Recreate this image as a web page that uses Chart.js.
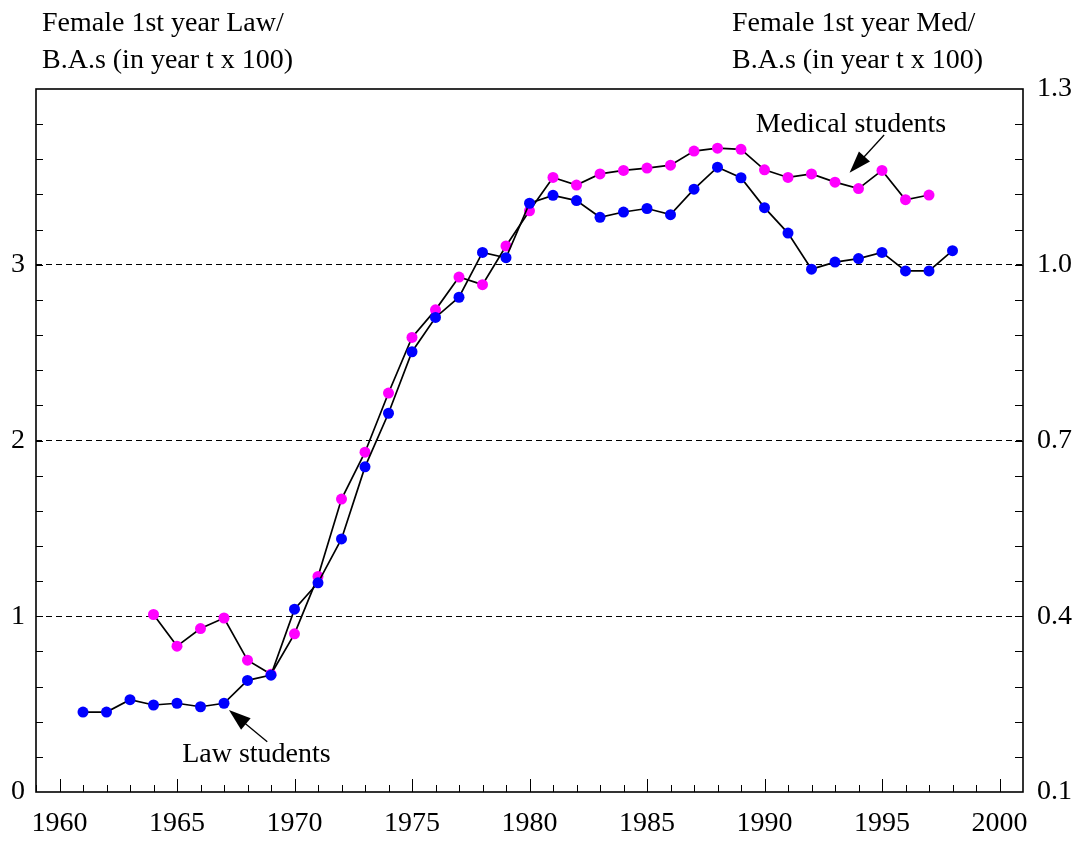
<!DOCTYPE html>
<html>
<head>
<meta charset="utf-8">
<script src="https://cdn.jsdelivr.net/npm/chart.js@4"></script>
<style>
  html, body { margin: 0; padding: 0; background: #fff; }
  #wrap { width: 1079px; height: 844px; }
</style>
</head>
<body>
<div id="wrap"><canvas id="chart" width="1079" height="844"></canvas></div>
<script>
// law students, left axis
const lawYears = [1961, 1962, 1963, 1964, 1965, 1966, 1967, 1968, 1969, 1970,
    1971, 1972, 1973, 1974, 1975, 1976, 1977, 1978, 1979, 1980,
    1981, 1982, 1983, 1984, 1985, 1986, 1987, 1988, 1989, 1990,
    1991, 1992, 1993, 1994, 1995, 1996, 1997, 1998];
const lawValues = [0.455, 0.455, 0.525, 0.495, 0.505, 0.485, 0.505, 0.635, 0.665, 1.04,
    1.19, 1.44, 1.85, 2.155, 2.505, 2.70, 2.815, 3.07, 3.04, 3.35,
    3.395, 3.365, 3.27, 3.30, 3.32, 3.285, 3.43, 3.555, 3.495, 3.325,
    3.18, 2.975, 3.015, 3.035, 3.07, 2.965, 2.965, 3.08];

// medical students, right axis
const medYears = [1964, 1965, 1966, 1967, 1968, 1969, 1970,
    1971, 1972, 1973, 1974, 1975, 1976, 1977, 1978, 1979, 1980,
    1981, 1982, 1983, 1984, 1985, 1986, 1987, 1988, 1989, 1990,
    1991, 1992, 1993, 1994, 1995, 1996, 1997];
const medValues = [0.403, 0.349, 0.379, 0.397, 0.325, 0.301, 0.370,
    0.468, 0.600, 0.680, 0.781, 0.876, 0.923, 0.979, 0.966, 1.032, 1.092,
    1.149, 1.136, 1.155, 1.161, 1.165, 1.170, 1.194, 1.199, 1.197, 1.162,
    1.149, 1.155, 1.141, 1.130, 1.161, 1.111, 1.119];

const xTicks = [1960, 1965, 1970, 1975, 1980, 1985, 1990, 1995, 2000];
const leftTicks = [0, 1, 2, 3];
const rightTicks = [0.1, 0.4, 0.7, 1.0, 1.3];

const leftTitle = ['Female 1st year Law/', 'B.A.s (in year t x 100)'];
const rightTitle = ['Female 1st year Med/', 'B.A.s (in year t x 100)'];

const FONT = 'Liberation Serif, Times New Roman, serif';
const fontSpec = { family: FONT, size: 28 };

function arrow(ctx, x1, y1, x2, y2) {
    const ang = Math.atan2(y2 - y1, x2 - x1);
    const len = 22, half = 7.5;
    ctx.beginPath();
    ctx.moveTo(x1, y1);
    ctx.lineTo(x2 - Math.cos(ang) * len * 0.8, y2 - Math.sin(ang) * len * 0.8);
    ctx.stroke();
    ctx.beginPath();
    ctx.moveTo(x2, y2);
    ctx.lineTo(x2 - Math.cos(ang) * len + Math.sin(ang) * half, y2 - Math.sin(ang) * len - Math.cos(ang) * half);
    ctx.lineTo(x2 - Math.cos(ang) * len - Math.sin(ang) * half, y2 - Math.sin(ang) * len + Math.cos(ang) * half);
    ctx.closePath();
    ctx.fill();
}

const framePlugin = {
    id: 'frame',
    beforeDatasetsDraw(chart) {
        const ctx = chart.ctx;
        const a = chart.chartArea;
        const xs = chart.scales.x, ys = chart.scales.y;
        ctx.save();
        ctx.strokeStyle = '#000';
        ctx.lineWidth = 1;
        // inward ticks on the year axis
        for (let yr = Math.ceil(xs.min); yr < xs.max; yr++) {
            const px = Math.round(xs.getPixelForValue(yr)) + 0.5;
            const len = yr % 5 === 0 ? 13 : 7;
            ctx.beginPath();
            ctx.moveTo(px, a.bottom);
            ctx.lineTo(px, a.bottom - len);
            ctx.stroke();
        }
        // inward ticks on both side axes, every 0.2 of the left scale
        for (let i = 1; i < 20; i++) {
            const py = Math.round(ys.getPixelForValue(i * 0.2)) + 0.5;
            ctx.beginPath();
            ctx.moveTo(a.left, py);
            ctx.lineTo(a.left + 7, py);
            ctx.moveTo(a.right, py);
            ctx.lineTo(a.right - 8, py);
            ctx.stroke();
        }
        ctx.lineWidth = 1.6;
        ctx.strokeRect(a.left, a.top, a.right - a.left, a.bottom - a.top);
        ctx.restore();
    },
    afterDraw(chart) {
        const ctx = chart.ctx;
        const xs = chart.scales.x, ys = chart.scales.y;
        ctx.save();
        ctx.fillStyle = '#000';
        ctx.strokeStyle = '#000';
        ctx.lineWidth = 1.3;
        ctx.font = '28px ' + FONT;
        ctx.textBaseline = 'alphabetic';
        ctx.textAlign = 'left';
        ctx.fillText(leftTitle[0], 42, 31);
        ctx.fillText(leftTitle[1], 42, 68);
        ctx.fillText(rightTitle[0], 732, 31);
        ctx.fillText(rightTitle[1], 732, 68);

        ctx.textAlign = 'center';
        ctx.textBaseline = 'middle';
        ctx.fillText('Medical students', xs.getPixelForValue(1993.68), ys.getPixelForValue(3.795));
        ctx.fillText('Law students', xs.getPixelForValue(1968.38), ys.getPixelForValue(0.21));

        arrow(ctx, xs.getPixelForValue(1995.09), ys.getPixelForValue(3.738),
            xs.getPixelForValue(1993.62), ys.getPixelForValue(3.524));
        arrow(ctx, xs.getPixelForValue(1968.84), ys.getPixelForValue(0.286),
            xs.getPixelForValue(1967.21), ys.getPixelForValue(0.467));
        ctx.restore();
    }
};

const lawData = lawYears.map((yr, i) => ({ x: yr, y: lawValues[i] }));
const medData = medYears.map((yr, i) => ({ x: yr, y: medValues[i] }));

const chart = new Chart(document.getElementById('chart'), {
    type: 'line',
    data: {
        datasets: [{
            label: 'Law students',
            data: lawData,
            yAxisID: 'y',
            borderColor: '#000',
            borderWidth: 1.7,
            pointBackgroundColor: '#0000ff',
            pointBorderColor: '#0000ff',
            pointBorderWidth: 0,
            pointRadius: 5.5,
            tension: 0,
        }, {
            label: 'Medical students',
            data: medData,
            yAxisID: 'y1',
            borderColor: '#000',
            borderWidth: 1.7,
            pointBackgroundColor: '#ff00ff',
            pointBorderColor: '#ff00ff',
            pointBorderWidth: 0,
            pointRadius: 5.5,
            tension: 0,
        }]
    },
    options: {
        responsive: false,
        animation: false,
        devicePixelRatio: 1,
        layout: { padding: { top: 89, left: 0, right: 0, bottom: 0 } },
        plugins: { legend: { display: false }, tooltip: { enabled: false } },
        scales: {
            x: {
                type: 'linear',
                min: 1959,
                max: 2001,
                afterBuildTicks: s => { s.ticks = xTicks.map(v => ({ value: v })); },
                afterFit: s => { s.height = 52; },
                grid: { display: false, drawTicks: false },
                border: { display: false },
                ticks: { font: fontSpec, color: '#000', padding: 15, maxRotation: 0, autoSkip: false,
                    callback: v => String(v) }
            },
            y: {
                position: 'left',
                min: 0,
                max: 4,
                afterBuildTicks: s => { s.ticks = leftTicks.map(v => ({ value: v })); },
                afterFit: s => { s.width = 36; },
                grid: {
                    drawTicks: false,
                    lineWidth: 1,
                    color: c => (c.tick && c.tick.value === 0) ? 'rgba(0,0,0,0)' : '#000'
                },
                border: { display: false, dash: [6, 4] },
                ticks: { font: fontSpec, color: '#000', padding: 11 }
            },
            y1: {
                position: 'right',
                min: 0.1,
                max: 1.3,
                afterBuildTicks: s => { s.ticks = rightTicks.map(v => ({ value: v })); },
                afterFit: s => { s.width = 56; },
                grid: { display: false, drawTicks: false },
                border: { display: false },
                ticks: { font: fontSpec, color: '#000', padding: 14, callback: v => v.toFixed(1) }
            }
        }
    },
    plugins: [framePlugin]
});
</script>
</body>
</html>
